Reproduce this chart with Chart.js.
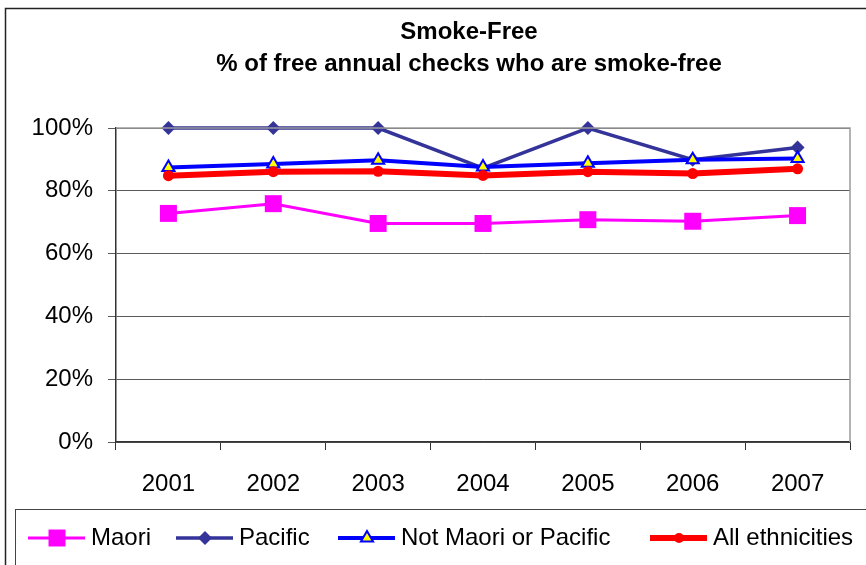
<!DOCTYPE html>
<html>
<head>
<meta charset="utf-8">
<script src="https://cdn.jsdelivr.net/npm/chart.js@4/dist/chart.umd.min.js"></script>
<style>
  html, body { margin: 0; padding: 0; background: #fff; }
  #wrap { width: 866px; height: 565px; }
</style>
</head>
<body>
<div id="wrap"><canvas id="chart" width="866" height="565"></canvas></div>
<script>
// data (percent)
const years = ['2001', '2002', '2003', '2004', '2005', '2006', '2007'];
const maori = [72.8, 75.9, 69.6, 69.6, 70.8, 70.3, 72.1];
const pacific = [100, 100, 100, 87.2, 100, 89.9, 93.8];
const notMaoriPacific = [87.4, 88.5, 89.7, 87.6, 88.8, 89.9, 90.3];
const allEthnicities = [84.8, 86.1, 86.2, 84.9, 86.1, 85.5, 87.0];
const yTicks = [0, 20, 40, 60, 80, 100];
const titleLines = ['Smoke-Free', '% of free annual checks who are smoke-free'];

const FONT = "'Liberation Sans', Arial, sans-serif";
// left edge of each legend entry (line sample starts here)
const legendX = [28, 176, 338, 650];

// title, legend and outer frame, drawn like the Excel original
// (the title is centred on the whole frame, which runs past the right edge)
const frameLegend = {
  id: 'frameLegend',
  afterDraw(chart) {
    const ctx = chart.ctx;
    const area = chart.chartArea;
    ctx.save();
    // plot area border (top / right)
    ctx.strokeStyle = '#9a9a9a';
    ctx.lineWidth = 1.5;
    ctx.beginPath();
    ctx.moveTo(area.left, area.top);
    ctx.lineTo(area.right, area.top);
    ctx.lineTo(area.right, area.bottom);
    ctx.stroke();

    // outer chart border
    ctx.strokeStyle = '#222';
    ctx.lineWidth = 1.5;
    ctx.strokeRect(5.5, 8.5, 900, 600);

    // title
    ctx.fillStyle = '#000';
    ctx.font = 'bold 24px ' + FONT;
    ctx.textAlign = 'center';
    ctx.textBaseline = 'middle';
    titleLines.forEach((t, i) => ctx.fillText(t, 469, 32 + i * 32));

    // legend box
    ctx.strokeStyle = '#444';
    ctx.lineWidth = 1;
    ctx.strokeRect(15.5, 509.5, 900, 100);

    const y = 538;
    ctx.font = '24px ' + FONT;
    ctx.textAlign = 'left';
    chart.data.datasets.forEach((ds, i) => {
      const x = legendX[i];
      ctx.strokeStyle = ds.borderColor;
      ctx.lineWidth = ds.borderWidth;
      ctx.beginPath();
      ctx.moveTo(x, y);
      ctx.lineTo(x + 57, y);
      ctx.stroke();
      ctx.fillStyle = ds.pointBackgroundColor;
      ctx.strokeStyle = ds.pointBorderColor;
      ctx.lineWidth = ds.pointBorderWidth;
      Chart.helpers.drawPoint(ctx, {
        pointStyle: ds.pointStyle,
        radius: ds.legendRadius,
        rotation: 0,
        borderWidth: ds.pointBorderWidth
      }, x + 29, y);
      ctx.fillStyle = '#000';
      ctx.fillText(ds.label, x + 63, y);
    });
    ctx.restore();
  }
};

new Chart(document.getElementById('chart'), {
  type: 'line',
  data: {
    labels: years,
    datasets: [
      {
        label: 'Maori',
        data: maori,
        borderColor: '#ff00ff',
        borderWidth: 3,
        pointStyle: 'rect',
        pointRadius: 12,
        legendRadius: 12,
        pointBackgroundColor: '#ff00ff',
        pointBorderColor: '#ff00ff',
        pointBorderWidth: 0,
        clip: false,
        order: 4
      },
      {
        label: 'Pacific',
        data: pacific,
        borderColor: '#333399',
        borderWidth: 3.5,
        pointStyle: 'rectRot',
        pointRadius: 7,
        legendRadius: 7,
        pointBackgroundColor: '#333399',
        pointBorderColor: '#333399',
        pointBorderWidth: 0,
        clip: false,
        order: 3
      },
      {
        label: 'Not Maori or Pacific',
        data: notMaoriPacific,
        borderColor: '#0000ff',
        borderWidth: 4,
        pointStyle: 'triangle',
        pointRadius: 7,
        legendRadius: 7,
        pointBackgroundColor: '#ffff00',
        pointBorderColor: '#0000ff',
        pointBorderWidth: 2,
        clip: false,
        order: 2
      },
      {
        label: 'All ethnicities',
        data: allEthnicities,
        borderColor: '#ff0000',
        borderWidth: 6,
        pointStyle: 'circle',
        pointRadius: 5.5,
        legendRadius: 5,
        pointBackgroundColor: '#ff0000',
        pointBorderColor: '#ff0000',
        pointBorderWidth: 0,
        clip: false,
        order: 1
      }
    ]
  },
  options: {
    responsive: false,
    animation: false,
    layout: { padding: { top: 128, right: 16, bottom: 0, left: 0 } },
    elements: { line: { tension: 0 } },
    plugins: {
      legend: { display: false },
      tooltip: { enabled: false },
      title: { display: false }
    },
    scales: {
      x: {
        offset: true,
        grid: { offset: true, drawOnChartArea: false, drawTicks: true, tickLength: 8, color: '#333' },
        border: { color: '#333', width: 1.5 },
        ticks: { color: '#000', font: { family: FONT, size: 24 }, padding: 20 },
        afterFit(scale) { scale.height = 123; }
      },
      y: {
        min: 0,
        max: 100,
        afterBuildTicks(scale) { scale.ticks = yTicks.map(v => ({ value: v })); },
        grid: { color: '#5a5a5a', tickLength: 8, lineWidth: 1 },
        border: { color: '#333', width: 1.5 },
        ticks: { color: '#000', font: { family: FONT, size: 24 }, padding: 15, callback: v => v + '%' },
        afterFit(scale) { scale.width = 116; }
      }
    }
  },
  plugins: [frameLegend]
});
</script>
</body>
</html>
